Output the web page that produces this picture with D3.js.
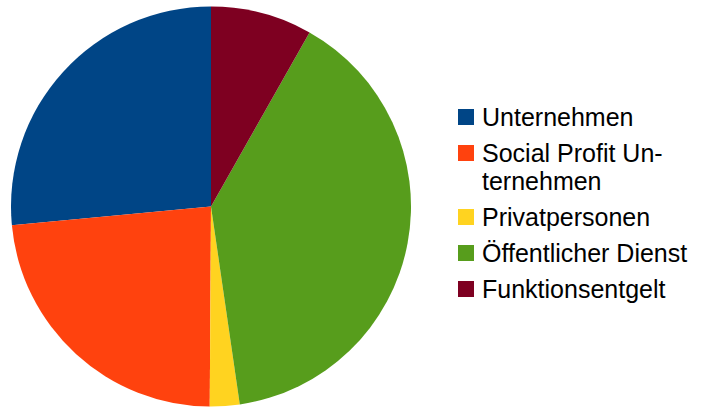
<!DOCTYPE html>
<html>
<head>
<meta charset="utf-8">
<script src="https://cdn.jsdelivr.net/npm/d3@7"></script>
<style>
  body { margin: 0; background: #fff; }
  text { font-family: "Liberation Sans", Arial, sans-serif; fill: #000; }
</style>
</head>
<body>
<div id="chart"></div>
<script>
// data (percent shares)
var categories = ['Unternehmen', 'Social Profit Unternehmen', 'Privatpersonen', 'Öffentlicher Dienst', 'Funktionsentgelt']
var values = [26.5, 23.4, 2.4, 39.5, 8.2]
var colors = ['#004586', '#ff420e', '#ffd320', '#579d1c', '#7e0021']
// legend text as wrapped in the original
var legendLines = [['Unternehmen'], ['Social Profit Un-', 'ternehmen'], ['Privatpersonen'], ['Öffentlicher Dienst'], ['Funktionsentgelt']]

var conf = {
  width: 709,
  height: 407,
  cx: 211,
  cy: 206.5,
  r: 200,
  lgd_x: 458,
  lgd_y: 126,
  lgd_box: 16,
  lgd_font: 25,
  lgd_line: 28,
  lgd_gap: 36
}

var svg = d3.select('#chart')
    .append('svg')
    .attr('width', conf.width)
    .attr('height', conf.height)

var data = categories.map((c, i) => { return {name: c, value: values[i], color: colors[i], lines: legendLines[i]} })

// slices go counter-clockwise from twelve o'clock
var pie = d3.pie()
    .sort(null)
    .value(d => { return d.value })
    .startAngle(0)
    .endAngle(-2 * Math.PI)

var arc = d3.arc().innerRadius(0).outerRadius(conf.r)

svg.append('g')
  .attr('transform', 'translate(' + conf.cx + ',' + conf.cy + ')')
  .selectAll('path')
  .data(pie(data))
  .enter()
  .append('path')
  .attr('d', arc)
  .attr('fill', d => { return d.data.color })

// legend
var y = conf.lgd_y
var lgd = svg.append('g')
data.forEach(d => {
  var g = lgd.append('g').attr('transform', 'translate(' + conf.lgd_x + ',' + y + ')')
  g.append('rect')
    .attr('x', 0)
    .attr('y', -17)
    .attr('width', conf.lgd_box)
    .attr('height', conf.lgd_box)
    .attr('fill', d.color)
  var t = g.append('text')
    .attr('x', 24)
    .attr('y', 0)
    .style('font-size', conf.lgd_font + 'px')
  d.lines.forEach((ln, j) => {
    t.append('tspan')
      .attr('x', 24)
      .attr('dy', j == 0 ? 0 : conf.lgd_line)
      .text(ln)
  })
  y += (d.lines.length - 1) * conf.lgd_line + conf.lgd_gap
})
</script>
</body>
</html>
